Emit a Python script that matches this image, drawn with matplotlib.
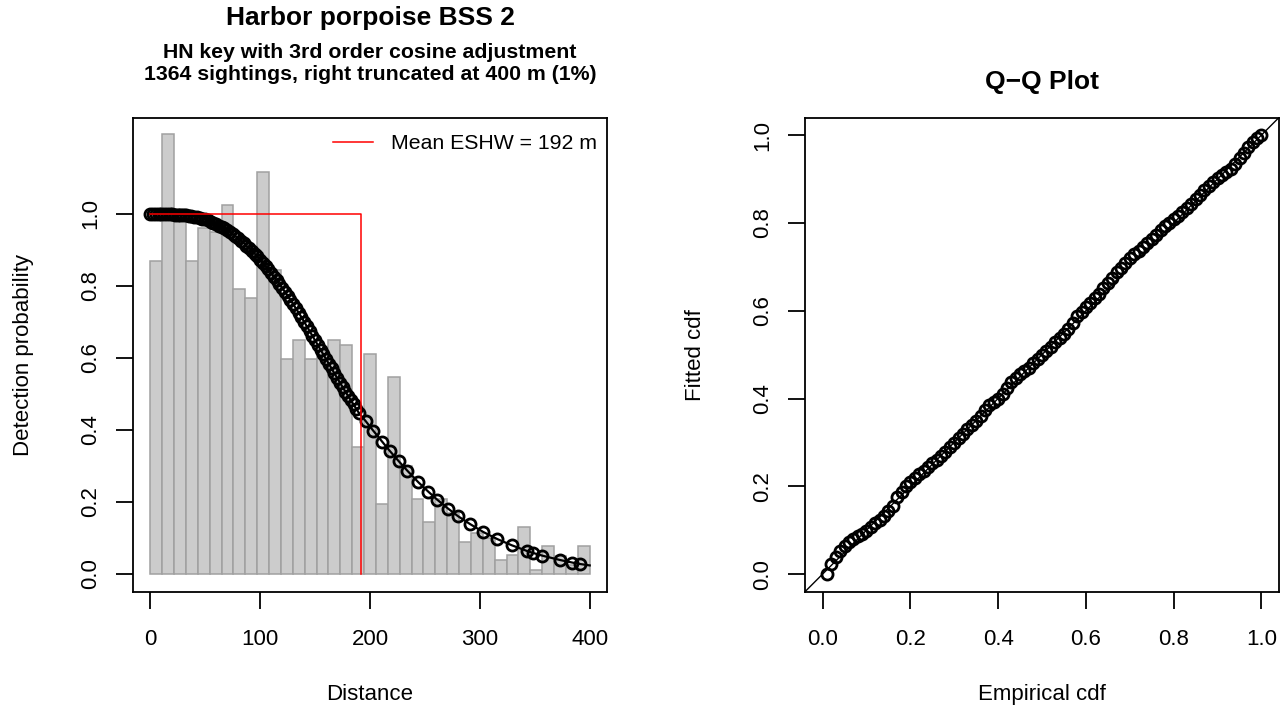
import matplotlib
matplotlib.use("Agg")
import matplotlib.pyplot as plt
from matplotlib.lines import Line2D
import numpy as np

plt.rcParams['font.family'] = ['Liberation Sans', 'DejaVu Sans']

# histogram of scaled detections, 37 bins from 0 to 400 m
bar_heights = [0.870, 1.223, 1.015, 0.870, 0.960, 0.950, 1.026, 0.793, 0.766, 1.118,
               0.845, 0.598, 0.650, 0.598, 0.620, 0.650, 0.636, 0.352, 0.610, 0.195,
               0.547, 0.300, 0.209, 0.144, 0.209, 0.170, 0.090, 0.115, 0.100, 0.039,
               0.053, 0.130, 0.011, 0.078, 0.050, 0.025, 0.078]
truncation = 400

# fitted detection probability at sighting distances
det_dist = [0, 2.5, 5, 7.5, 10, 12.5, 15, 17.5, 20, 22.5, 25, 27.5, 30, 32.5, 35, 37.5,
            40, 42.5, 45, 47.5, 50, 52.5, 55, 57.5, 60, 62.5, 65, 67.5, 70, 72.5, 75, 77.5,
            80, 82.5, 85, 87.5, 90, 92.5, 95, 97.5, 100, 102.5, 105, 107.5, 110, 112.5,
            115, 117.5, 120, 122.5, 125, 127.5, 130, 132.5, 135, 137.5, 140, 142.5, 145,
            147.5, 150, 152.5, 155, 157.5, 160, 162.5, 165, 167.5, 170, 172.5, 175, 177.5,
            180, 182.5, 185, 187.5, 190,
            196, 203, 211, 218, 226, 234, 244, 253, 261, 271, 280, 291, 303,
            316, 329, 343, 348, 357, 373, 384, 391]
det_prob = [1.000, 1.000, 1.000, 1.000, 1.000, 0.999, 0.999, 0.999, 0.999, 0.998, 0.998,
            0.997, 0.997, 0.996, 0.995, 0.994, 0.993, 0.991, 0.989, 0.987, 0.985, 0.982,
            0.979, 0.976, 0.972, 0.968, 0.964, 0.960, 0.955, 0.950, 0.944, 0.938, 0.932,
            0.926, 0.919, 0.912, 0.905, 0.898, 0.890, 0.882, 0.873, 0.864, 0.855, 0.846,
            0.836, 0.826, 0.816, 0.806, 0.795, 0.784, 0.773, 0.762, 0.750, 0.738, 0.726,
            0.714, 0.701, 0.688, 0.675, 0.662, 0.649, 0.636, 0.623, 0.610, 0.597, 0.584,
            0.571, 0.558, 0.545, 0.532, 0.520, 0.507, 0.495, 0.483, 0.471, 0.459, 0.447,
            0.425, 0.398, 0.368, 0.342, 0.314, 0.287, 0.255, 0.229, 0.207, 0.182, 0.161,
            0.139, 0.117, 0.097, 0.080, 0.064, 0.059, 0.051, 0.039, 0.032, 0.028]
curve_end = 0.024

eshw = 192

# Q-Q values
emp_cdf = [0.01, 0.02, 0.03, 0.04, 0.05, 0.06, 0.07, 0.08, 0.09, 0.10,
           0.11, 0.12, 0.13, 0.14, 0.15, 0.16, 0.17, 0.18, 0.19, 0.20,
           0.21, 0.22, 0.23, 0.24, 0.25, 0.26, 0.27, 0.28, 0.29, 0.30,
           0.31, 0.32, 0.33, 0.34, 0.35, 0.36, 0.37, 0.38, 0.39, 0.40,
           0.41, 0.42, 0.43, 0.44, 0.45, 0.46, 0.47, 0.48, 0.49, 0.50,
           0.51, 0.52, 0.53, 0.54, 0.55, 0.56, 0.57, 0.58, 0.59, 0.60,
           0.61, 0.62, 0.63, 0.64, 0.65, 0.66, 0.67, 0.68, 0.69, 0.70,
           0.71, 0.72, 0.73, 0.74, 0.75, 0.76, 0.77, 0.78, 0.79, 0.80,
           0.81, 0.82, 0.83, 0.84, 0.85, 0.86, 0.87, 0.88, 0.89, 0.90,
           0.91, 0.92, 0.93, 0.94, 0.95, 0.96, 0.97, 0.98, 0.99, 1.00]
fit_cdf = [0.000, 0.023, 0.039, 0.052, 0.064, 0.073, 0.080, 0.086, 0.092, 0.099,
           0.108, 0.116, 0.124, 0.133, 0.143, 0.155, 0.176, 0.188, 0.200, 0.209,
           0.218, 0.227, 0.236, 0.244, 0.252, 0.260, 0.269, 0.279, 0.289, 0.299,
           0.309, 0.319, 0.330, 0.340, 0.349, 0.360, 0.374, 0.386, 0.392, 0.399,
           0.410, 0.424, 0.437, 0.447, 0.455, 0.462, 0.470, 0.480, 0.490, 0.499,
           0.509, 0.518, 0.528, 0.537, 0.546, 0.559, 0.573, 0.587, 0.598, 0.608,
           0.618, 0.628, 0.639, 0.651, 0.663, 0.675, 0.687, 0.698, 0.709, 0.719,
           0.728, 0.737, 0.746, 0.755, 0.764, 0.773, 0.783, 0.792, 0.800, 0.808,
           0.815, 0.824, 0.834, 0.844, 0.854, 0.864, 0.874, 0.884, 0.894, 0.902,
           0.908, 0.915, 0.923, 0.935, 0.948, 0.960, 0.972, 0.984, 0.993, 1.000]

W, H = 1288, 721
fig = plt.figure(figsize=(W / 100, H / 100), dpi=100)


def px_axes(left, top, right, bottom):
    return fig.add_axes([left / W, 1 - bottom / H, (right - left) / W, (bottom - top) / H])


def style_axes(ax):
    for s in ax.spines.values():
        s.set_linewidth(1.3)
    ax.tick_params(direction='out', length=11.9, width=1.3, labelsize=16)
    ax.tick_params(axis='x', pad=15)
    ax.tick_params(axis='y', pad=14.4)


# ---- left: detection function ----
ax1 = px_axes(132.7, 117.5, 607.3, 591.7)
nbins = len(bar_heights)
edges = np.linspace(0, truncation, nbins + 1)
ax1.bar(edges[:-1], bar_heights, width=truncation / nbins, align='edge',
        color='#cccccc', edgecolor='#a0a0a0', linewidth=1.1, zorder=1)
ax1.plot(det_dist + [truncation], det_prob + [curve_end], color='black', lw=1.6, zorder=2)
ax1.plot(det_dist, det_prob, 'o', mfc='none', mec='black', ms=8, mew=2.0, zorder=2)
ax1.plot([0, eshw, eshw], [1, 1, 0], color='red', lw=1.1, zorder=3)
ax1.set_xlim(-16, 416)
ax1.set_ylim(-0.049, 1.268)
ax1.set_xticks([0, 100, 200, 300, 400], ['0', '100', '200', '300', '400'])
ax1.set_yticks([0, 0.2, 0.4, 0.6, 0.8, 1.0], ['0.0', '0.2', '0.4', '0.6', '0.8', '1.0'],
               rotation=90, rotation_mode='anchor', ha='center', va='baseline')
style_axes(ax1)
leg = ax1.legend(handles=[Line2D([], [], color='red', lw=1.1)],
                 labels=['Mean ESHW = %d m' % eshw],
                 loc='upper right', bbox_to_anchor=(597 / W, 1 - 134 / H),
                 bbox_transform=fig.transFigure, frameon=False, borderpad=0,
                 borderaxespad=0, handlelength=1.9, handletextpad=0.85, fontsize=15.3)

fig.text(370 / W, 1 - 18 / H, 'Harbor porpoise BSS 2', ha='center', va='center',
         fontsize=19, fontweight='bold')
fig.text(370 / W, 1 - 53 / H, 'HN key with 3rd order cosine adjustment', ha='center',
         va='center', fontsize=15.3, fontweight='bold')
fig.text(370 / W, 1 - 75 / H, '1364 sightings, right truncated at 400 m (1%)', ha='center',
         va='center', fontsize=15.3, fontweight='bold')
fig.text(370 / W, 1 - 700 / H, 'Distance', ha='center', va='baseline', fontsize=16)
fig.text(29 / W, 1 - 354.6 / H, 'Detection probability', rotation=90, rotation_mode='anchor',
         ha='center', va='baseline', fontsize=16)

# ---- right: Q-Q plot ----
ax2 = px_axes(805, 117.5, 1279, 591.7)
ax2.axline((0, 0), slope=1, color='black', lw=1.0, zorder=1)
ax2.plot(emp_cdf, fit_cdf, 'o', mfc='none', mec='black', ms=8, mew=2.0, zorder=2)
ax2.set_xlim(-0.04, 1.04)
ax2.set_ylim(-0.04, 1.04)
qq_ticks = [0, 0.2, 0.4, 0.6, 0.8, 1.0]
qq_labels = ['0.0', '0.2', '0.4', '0.6', '0.8', '1.0']
ax2.set_xticks(qq_ticks, qq_labels)
ax2.set_yticks(qq_ticks, qq_labels, rotation=90, rotation_mode='anchor', ha='center',
               va='baseline')
style_axes(ax2)

fig.text(1042 / W, 1 - 82 / H, 'Q\u2212Q Plot', ha='center', va='center', fontsize=19,
         fontweight='bold')
fig.text(1042 / W, 1 - 700 / H, 'Empirical cdf', ha='center', va='baseline', fontsize=16)
fig.text(701 / W, 1 - 354.6 / H, 'Fitted cdf', rotation=90, rotation_mode='anchor',
         ha='center', va='baseline', fontsize=16)

fig.savefig('out.png', dpi=100)
